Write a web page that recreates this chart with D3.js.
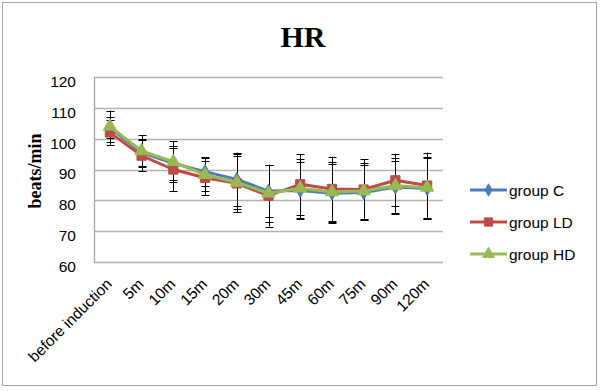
<!DOCTYPE html>
<html><head><meta charset="utf-8">
<script src="https://cdn.jsdelivr.net/npm/d3@7"></script>
<style>body{margin:0;background:#fff}svg{display:block}</style>
</head><body><svg id="c" width="600" height="391"></svg>
<script>
const categories = ["before induction","5m","10m","15m","20m","30m","45m","60m","75m","90m","120m"];
const groupC  = [103.6, 95.5, 92.0, 89.3, 86.8, 83.0, 83.2, 82.3, 82.5, 84.3, 83.8];
const groupLD = [102.0, 94.5, 90.0, 87.3, 85.5, 81.5, 85.2, 83.7, 83.5, 86.5, 84.8];
const groupHD = [104.0, 96.0, 92.5, 88.3, 85.8, 82.3, 83.9, 82.7, 83.0, 84.7, 84.2];
const errC  = [3.5, 4.4, 5.5, 4.7, 8.7, 8.5, 9.2, 9.5, 9.0, 8.5, 10.0];
const errLD = [4.0, 5.0, 7.0, 5.6, 9.4, 10.0, 9.8, 10.5, 9.8, 8.5, 10.7];
const errHD = [5.1, 5.2, 6.7, 5.3, 8.6, 9.2, 9.6, 9.8, 9.0, 9.0, 10.0];
const yTicks = [60, 70, 80, 90, 100, 110, 120];
const seriesNames = ["group C", "group LD", "group HD"];
const colors = ["#4a7ebb", "#be4b48", "#98b954"];

const series = [
  {name: seriesNames[0], values: groupC, err: errC, color: colors[0], marker: d3.symbolDiamond, size: 55},
  {name: seriesNames[1], values: groupLD, err: errLD, color: colors[1], marker: d3.symbolSquare, size: 85},
  {name: seriesNames[2], values: groupHD, err: errHD, color: colors[2], marker: d3.symbolTriangle, size: 75}
];

const svg = d3.select("#c");
const font = "'Liberation Sans', Arial, sans-serif";
const serif = "'Liberation Serif', 'Times New Roman', serif";

svg.append("rect").attr("x", 2.5).attr("y", 2.5).attr("width", 594).attr("height", 383)
  .attr("fill", "#fff").attr("stroke", "#a6a6a6").attr("stroke-width", 1);

const pLeft = 94, pRight = 443, pTop = 77, pBottom = 262;
const x = d3.scaleBand().domain(categories).range([pLeft, pRight]);
const y = d3.scaleLinear().domain([60, 120]).range([pBottom, pTop]);
const cx = c => x(c) + x.bandwidth() / 2;

// gridlines
svg.append("g").selectAll("line").data(yTicks).join("line")
  .attr("x1", pLeft).attr("x2", pRight)
  .attr("y1", d => Math.round(y(d)) + 0.5).attr("y2", d => Math.round(y(d)) + 0.5)
  .attr("stroke", "#b3b3b3").attr("stroke-width", 1.3);
svg.append("line").attr("x1", pLeft + 0.5).attr("x2", pLeft + 0.5).attr("y1", pTop).attr("y2", pBottom + 1)
  .attr("stroke", "#a6a6a6").attr("stroke-width", 1.3);

// y axis labels
const yAxis = d3.axisLeft(y).tickValues(yTicks).tickSize(0).tickPadding(0);
const yg = svg.append("g").attr("transform", `translate(${pLeft - 18},4.5)`).call(yAxis);
yg.select(".domain").remove();
yg.selectAll("text").attr("font-family", font).attr("font-size", "15.5px").attr("fill", "#000");

// x axis labels
const xAxis = d3.axisBottom(x).tickSize(0);
const xg = svg.append("g").attr("transform", `translate(0,${pBottom})`).call(xAxis);
xg.select(".domain").remove();
xg.selectAll("text").attr("font-family", font).attr("font-size", "15.5px").attr("fill", "#000")
  .attr("text-anchor", "end").attr("dy", 0).attr("y", 0)
  .attr("transform", "translate(3,23) rotate(-45)");

// error bars
const eg = svg.append("g").attr("stroke", "#000").attr("stroke-width", 1);
series.forEach(s => {
  categories.forEach((c, i) => {
    const xc = Math.round(cx(c)) + 0.5;
    const hi = y(s.values[i] + s.err[i]), lo = y(s.values[i] - s.err[i]);
    eg.append("line").attr("x1", xc).attr("x2", xc).attr("y1", hi).attr("y2", lo);
    eg.append("line").attr("x1", xc - 4).attr("x2", xc + 4).attr("y1", Math.round(hi) + 0.5).attr("y2", Math.round(hi) + 0.5);
    eg.append("line").attr("x1", xc - 4).attr("x2", xc + 4).attr("y1", Math.round(lo) + 0.5).attr("y2", Math.round(lo) + 0.5);
  });
});

// lines + markers
const line = d3.line().x((d, i) => cx(categories[i])).y(d => y(d));
series.forEach(s => {
  svg.append("path").datum(s.values).attr("d", line).attr("fill", "none")
    .attr("stroke", s.color).attr("stroke-width", 3).attr("stroke-linejoin", "round");
  svg.append("g").selectAll("path").data(s.values).join("path")
    .attr("d", d3.symbol().type(s.marker).size(s.size))
    .attr("transform", (d, i) => `translate(${cx(categories[i])},${y(d)})`)
    .attr("fill", s.color).attr("stroke", s.color).attr("stroke-width", 1);
});

// title
svg.append("text").attr("x", 303).attr("y", 47).attr("text-anchor", "middle")
  .attr("font-family", serif).attr("font-weight", "bold").attr("font-size", "30px").text("HR");

// y title
svg.append("text").attr("transform", "translate(41,171) rotate(-90)").attr("text-anchor", "middle")
  .attr("font-family", serif).attr("font-weight", "bold").attr("font-size", "18px").text("beats/min");

// legend
const legY = [190, 222, 254];
series.forEach((s, i) => {
  const g = svg.append("g").attr("transform", `translate(470,${legY[i]})`);
  g.append("line").attr("x1", 0).attr("x2", 37).attr("y1", 0).attr("y2", 0)
    .attr("stroke", s.color).attr("stroke-width", 3);
  g.append("path").attr("d", d3.symbol().type(s.marker).size(s.size * 0.8)).attr("transform", "translate(18.5,0)")
    .attr("fill", s.color).attr("stroke", s.color);
  g.append("text").attr("x", 39).attr("y", 5.5).attr("font-family", font).attr("font-size", "15.5px")
    .text(s.name);
});
</script></body></html>
